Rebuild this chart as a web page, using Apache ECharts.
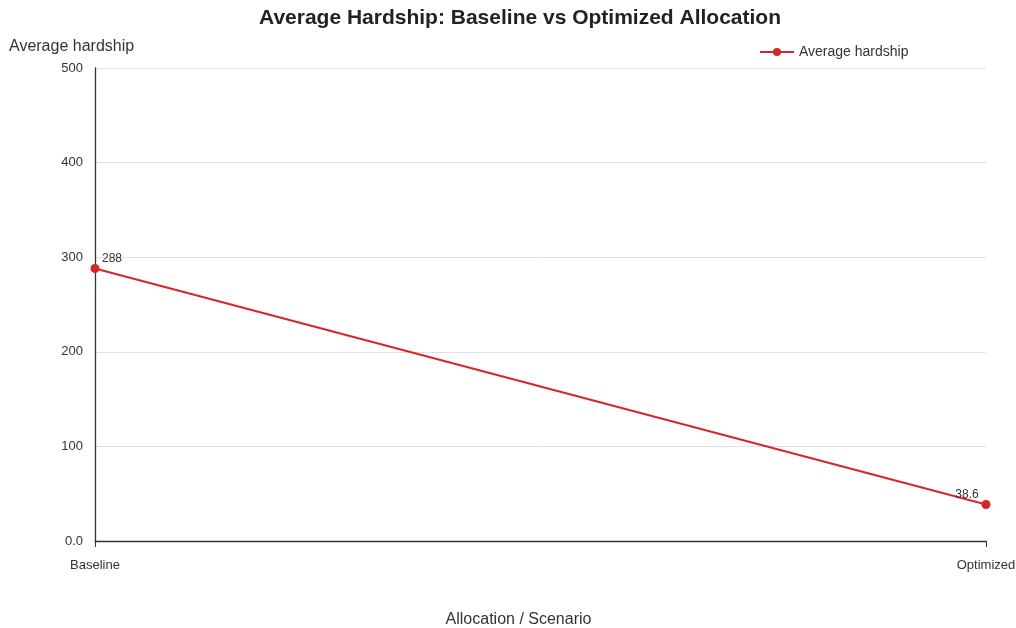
<!DOCTYPE html>
<html>
<head>
<meta charset="utf-8">
<script src="https://cdn.jsdelivr.net/npm/echarts@6/dist/echarts.min.js"></script>
<style>
  html, body { margin: 0; padding: 0; background: #fff; }
  #chart { width: 1016px; height: 628px; }
</style>
</head>
<body>
<div id="chart"></div>
<script>
// data
var scenarios = ["Baseline", "Optimized"];
var hardship = [288, 38.6];
var yTicks = [0, 100, 200, 300, 400, 500];

var lineColor = "#d62728";

var chart = echarts.init(document.getElementById("chart"));
var option = {
  textStyle: { fontFamily: "Liberation Sans, Arial, sans-serif" },
  title: {
    text: "Average Hardship: Baseline vs Optimized Allocation",
    left: 254,
    top: 3,
    textStyle: { fontSize: 21, fontWeight: "bold", color: "#222" }
  },
  legend: {
    data: ["Average hardship"],
    top: 40,
    left: 754,
    itemWidth: 34,
    itemHeight: 10,
    textStyle: { fontSize: 14, color: "#333" }
  },
  grid: { left: 95, right: 30, top: 68, bottom: 87, containLabel: false, outerBoundsMode: "none" },
  xAxis: {
    type: "category",
    data: scenarios,
    boundaryGap: false,
    name: "Allocation / Scenario",
    nameLocation: "middle",
    nameGap: 71,
    nameTextStyle: { fontSize: 16, color: "#333", padding: [0, 44, 0, 0] },
    axisLine: { lineStyle: { color: "#333", width: 1.3 } },
    axisTick: { show: true, alignWithLabel: true, length: 6 },
    axisLabel: { fontSize: 13, color: "#333", margin: 18 },
    splitLine: { show: false }
  },
  yAxis: {
    type: "value",
    min: yTicks[0],
    max: yTicks[yTicks.length - 1],
    interval: 100,
    name: "Average hardship",
    nameLocation: "end",
    nameGap: 13,
    nameTextStyle: { fontSize: 16, color: "#333", align: "left", padding: [0, 0, 0, -86] },
    axisLine: { show: true, lineStyle: { color: "#333", width: 1.3 } },
    axisTick: { show: false },
    axisLabel: {
      fontSize: 13, color: "#333", margin: 12,
      formatter: function (v) { return v === 0 ? "0.0" : String(v); }
    },
    splitLine: { show: true, lineStyle: { color: "#e0e0e0" } }
  },
  series: [{
    name: "Average hardship",
    type: "line",
    data: [
      { value: hardship[0], label: { position: "top", offset: [17, 6] } },
      { value: hardship[1], label: { position: "top", offset: [-19, 6] } }
    ],
    symbol: "circle",
    symbolSize: 9,
    itemStyle: { color: lineColor },
    lineStyle: { color: lineColor, width: 2 },
    label: { show: true, fontSize: 12, color: "#333" }
  }]
};
chart.setOption(option);
</script>
</body>
</html>
